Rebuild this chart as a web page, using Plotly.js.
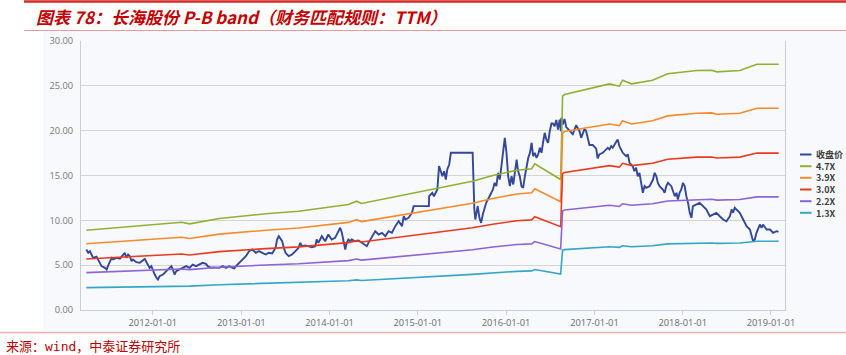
<!DOCTYPE html>
<html><head><meta charset="utf-8">
<script src="https://cdn.plot.ly/plotly-3.0.1.min.js"></script>
<style>html,body{margin:0;padding:0;background:#fff;}#chart{width:846px;height:355px;}</style>
</head><body><div id="chart"></div>
<script>
// ---------- DATA ----------
const priceDates = [
'2011-04-01','2011-04-09','2011-04-16','2011-04-23','2011-04-29','2011-05-13','2011-05-20','2011-06-03','2011-06-17','2011-06-24',
'2011-07-01','2011-07-08','2011-07-15','2011-07-21','2011-08-04','2011-08-18','2011-08-31','2011-09-07','2011-09-14','2011-09-21',
'2011-09-28','2011-10-05','2011-10-11','2011-10-25','2011-11-08','2011-11-22','2011-11-29','2011-12-06','2011-12-19','2011-12-26',
'2012-01-02','2012-01-09','2012-01-16','2012-01-22','2012-01-29','2012-02-12','2012-02-26','2012-03-11','2012-03-18','2012-03-24',
'2012-03-31','2012-04-07','2012-04-21','2012-05-04','2012-05-18','2012-06-01','2012-06-14','2012-06-28','2012-07-12','2012-07-25',
'2012-08-08','2012-08-15','2012-08-29','2012-09-05','2012-10-02','2012-10-16','2012-10-30','2012-11-12','2012-11-26','2012-12-03',
'2012-12-10','2012-12-24','2013-01-06','2013-01-20','2013-02-02','2013-02-16','2013-03-02','2013-03-15','2013-03-29','2013-04-12',
'2013-04-25','2013-05-09','2013-05-23','2013-05-29','2013-06-05','2013-06-12','2013-06-19','2013-06-26','2013-07-03','2013-07-16',
'2013-07-30','2013-08-13','2013-08-26','2013-09-02','2013-09-09','2013-09-23','2013-10-06','2013-10-20','2013-11-03','2013-11-09',
'2013-11-16','2013-11-30','2013-12-14','2013-12-27','2014-01-10','2014-01-24','2014-02-07','2014-02-14','2014-02-21','2014-02-28',
'2014-03-07','2014-03-13','2014-03-20','2014-03-27','2014-04-03','2014-04-17','2014-05-01','2014-05-15','2014-06-04','2014-06-11',
'2014-06-25','2014-07-09','2014-07-23','2014-08-06','2014-08-20','2014-09-02','2014-09-16','2014-09-30','2014-10-14','2014-10-28',
'2014-11-04','2014-11-11','2014-11-24','2014-12-08','2014-12-15','2015-01-05','2015-02-16','2015-02-17','2015-03-02','2015-03-09',
'2015-03-23','2015-03-30','2015-04-06','2015-04-13','2015-04-20','2015-04-27','2015-05-03','2015-05-11','2015-05-18','2015-08-16',
'2015-08-23','2015-08-27','2015-08-31','2015-09-06','2015-09-13','2015-09-20','2015-09-27','2015-10-04','2015-10-11','2015-10-25',
'2015-11-08','2015-11-15','2015-11-22','2015-11-29','2015-12-06','2015-12-13','2015-12-20','2015-12-27','2016-01-03','2016-01-10',
'2016-01-17','2016-01-24','2016-01-31','2016-02-07','2016-02-14','2016-02-20','2016-02-27','2016-03-05','2016-03-12','2016-03-19',
'2016-03-26','2016-04-02','2016-04-09','2016-04-16','2016-04-22','2016-04-29','2016-05-06','2016-05-13','2016-05-20','2016-05-27',
'2016-06-02','2016-06-09','2016-06-16','2016-06-23','2016-06-30','2016-07-07','2016-07-13','2016-07-20','2016-07-27','2016-08-03',
'2016-08-10','2016-08-15','2016-08-17','2016-08-23','2016-08-30','2016-09-06','2016-09-20','2016-10-03','2016-10-17','2016-10-31',
'2016-11-07','2016-11-13','2016-11-20','2016-11-27','2016-12-04','2016-12-11','2016-12-25','2017-01-08','2017-01-14','2017-01-21',
'2017-02-04','2017-02-18','2017-02-25','2017-03-04','2017-03-11','2017-03-17','2017-04-01','2017-04-07','2017-04-14','2017-04-21',
'2017-04-28','2017-05-12','2017-05-19','2017-05-26','2017-06-08','2017-06-15','2017-06-22','2017-06-29','2017-07-06','2017-07-13',
'2017-07-20','2017-07-27','2017-08-03','2017-08-17','2017-08-31','2017-09-07','2017-09-14','2017-09-20','2017-09-27','2017-10-11',
'2017-10-18','2017-10-25','2017-11-01','2017-11-15','2017-11-22','2017-11-29','2017-12-06','2017-12-12','2017-12-19','2017-12-26',
'2018-01-02','2018-01-09','2018-01-16','2018-01-23','2018-01-30','2018-02-06','2018-02-12','2018-02-26','2018-03-12','2018-03-26',
'2018-04-09','2018-04-23','2018-05-06','2018-05-20','2018-06-03','2018-06-17','2018-07-01','2018-07-15','2018-07-22','2018-07-28',
'2018-08-04','2018-08-11','2018-08-25','2018-09-08','2018-09-22','2018-10-06','2018-10-13','2018-10-19','2018-10-26','2018-11-02',
'2018-11-16','2018-11-23','2018-11-29','2018-12-14','2018-12-28','2019-01-10','2019-01-24','2019-02-01'
];
const priceValues = [
6.75,6.38,6.55,6.19,5.82,5.95,5.63,4.89,4.70,4.52,
5.00,5.44,5.82,5.65,5.82,5.72,6.08,6.38,5.82,6.19,
6.00,5.44,5.63,5.33,5.26,5.63,5.70,5.33,4.70,4.89,
4.33,3.96,3.59,3.40,3.77,3.96,4.33,4.70,4.89,4.52,
3.96,4.33,4.52,4.70,4.89,4.70,5.07,4.89,5.07,5.26,
5.15,4.89,4.70,4.75,4.70,4.89,4.70,4.89,4.70,4.63,
4.89,5.26,5.63,6.00,6.56,6.75,6.38,6.56,6.38,6.19,
6.38,6.30,6.94,7.86,8.23,7.86,7.67,6.94,6.38,6.00,
6.19,6.56,6.94,7.49,7.12,7.20,7.12,7.00,7.12,7.86,
7.49,8.23,7.67,8.42,7.86,8.05,8.79,9.17,8.61,7.67,
6.75,7.49,7.86,7.67,7.86,7.67,7.75,7.49,7.12,7.49,
8.23,8.79,8.42,8.61,8.23,8.79,8.61,9.35,9.90,9.35,
10.46,10.09,10.28,10.84,11.58,11.58,11.58,12.69,13.07,12.69,
13.44,16.04,15.50,14.92,15.48,14.55,15.67,16.23,17.53,17.53,
11.21,10.09,10.70,11.58,10.28,9.72,10.65,11.21,11.95,12.69,
13.44,14.18,13.81,15.30,14.55,16.04,17.90,19.20,17.53,14.92,
13.81,14.92,14.00,15.67,16.78,15.50,14.92,13.81,13.63,14.92,
16.04,16.97,17.53,18.65,17.15,17.53,16.97,17.34,18.09,17.53,
18.65,19.76,19.00,18.65,19.94,20.80,20.80,20.50,21.20,20.13,
21.24,19.94,21.43,20.69,21.30,20.40,20.00,19.60,20.60,19.94,
19.20,19.76,20.13,20.00,19.10,18.40,18.40,18.00,16.90,17.34,
17.53,17.90,18.09,17.90,18.27,18.10,18.65,19.01,18.27,17.90,
17.53,17.15,17.34,16.42,16.04,15.48,15.86,14.92,15.30,14.18,
13.07,13.81,13.63,13.81,14.55,15.30,14.92,14.18,13.81,13.44,
13.07,13.81,14.18,13.81,13.25,12.69,13.07,12.32,13.07,13.44,
14.18,13.81,12.69,11.95,10.84,10.28,11.58,11.77,11.95,11.58,
11.21,10.46,10.65,10.84,10.46,10.09,9.90,10.46,11.21,10.84,
11.40,11.21,10.84,10.09,9.35,8.98,8.23,7.67,7.86,8.61,
9.53,9.16,9.53,8.98,8.98,8.61,8.79,8.70
];
const bandDates = [
'2011-04-01','2012-04-21','2012-04-29','2012-06-01','2012-10-02','2013-04-13','2013-08-26','2014-03-20','2014-04-23','2014-05-13',
'2015-08-15','2015-11-07','2016-02-15','2016-04-16','2016-04-29','2016-08-14','2016-08-22','2016-08-30','2017-03-04','2017-04-14',
'2017-04-27','2017-06-03','2017-08-29','2017-10-31','2018-02-28','2018-05-01','2018-05-22','2018-08-25','2018-11-04','2019-02-02'
];
const band47 = [8.90,9.72,9.79,9.61,10.20,10.73,11.02,11.77,12.13,11.88,14.36,15.00,15.59,15.75,16.30,14.55,23.84,24.03,25.22,24.96,25.63,25.22,25.63,26.34,26.71,26.74,26.56,26.71,27.41,27.41];
const band39 = [7.39,8.07,8.12,7.98,8.46,8.90,9.15,9.77,10.07,9.86,11.91,12.44,12.94,13.07,13.53,12.07,19.70,19.90,20.75,20.55,21.10,20.75,21.10,21.65,21.95,21.98,21.83,21.95,22.50,22.50];
const band30 = [5.68,6.20,6.25,6.14,6.51,6.85,7.04,7.51,7.74,7.58,9.17,9.57,9.95,10.05,10.40,9.29,15.22,15.34,16.10,15.93,16.36,16.10,16.36,16.81,17.05,17.07,16.95,17.05,17.50,17.50];
const band22 = [4.17,4.55,4.58,4.50,4.77,5.02,5.16,5.51,5.68,5.56,6.72,7.02,7.30,7.37,7.63,6.81,11.05,11.15,11.68,11.55,11.85,11.68,11.85,12.15,12.33,12.35,12.25,12.33,12.62,12.62];
const band13 = [2.50,2.69,2.71,2.66,2.82,2.97,3.05,3.26,3.36,3.29,3.97,4.15,4.31,4.36,4.51,4.02,6.67,6.73,7.06,6.98,7.17,7.06,7.17,7.37,7.47,7.48,7.43,7.47,7.66,7.66];
const seriesNames = ['收盘价','4.7X','3.9X','3.0X','2.2X','1.3X'];
const yTickValues = [0,5,10,15,20,25,30];
const xTickDates = ['2012-01-01','2013-01-01','2014-01-01','2015-01-01','2016-01-01','2017-01-01','2018-01-01','2019-01-01'];
const titleText = '图表 78：长海股份 P-B band（财务匹配规则：TTM）';
const sourceText = '来源：<span style="font-family:\'DejaVu Sans Mono\'">wind</span>，中泰证券研究所';

// ---------- STYLE / LAYOUT ----------
const colors = ['#33479b','#8fb132','#f88a2c','#ea3b1f','#8c64d6','#36a6c5'];
const L = 81, R = 785, T = 41, B = 310, W = 846, H = 355;
const PX = x => (x - L) / (R - L);
const PY = y => (B - y) / (B - T);

const bandSets = [band47, band39, band30, band22, band13];
const traces = [{
  x: priceDates, y: priceValues, type: 'scatter', mode: 'lines', name: seriesNames[0],
  line: {color: colors[0], width: 1.9}, showlegend: false, hoverinfo: 'skip'
}];
bandSets.forEach((b, i) => traces.push({
  x: bandDates, y: b, type: 'scatter', mode: 'lines', name: seriesNames[i + 1],
  line: {color: colors[i + 1], width: 1.6}, showlegend: false, hoverinfo: 'skip'
}));

const shapes = [
  {type: 'rect', xref: 'paper', yref: 'paper', x0: PX(43), x1: PX(846), y0: PY(331), y1: PY(31),
   fillcolor: '#f7f9fc', line: {width: 0}, layer: 'below'},
  {type: 'line', xref: 'paper', yref: 'paper', x0: PX(24), x1: PX(846), y0: PY(1.5), y1: PY(1.5),
   line: {color: '#d42a2a', width: 2.5}},
  {type: 'line', xref: 'paper', yref: 'paper', x0: PX(24), x1: PX(846), y0: PY(30.5), y1: PY(30.5),
   line: {color: '#e79a9a', width: 1.2}},
  {type: 'line', xref: 'paper', yref: 'paper', x0: PX(0), x1: PX(846), y0: PY(332.5), y1: PY(332.5),
   line: {color: '#efb0b0', width: 1.5}}
];
const legendY = [154.5, 166.2, 177.8, 189.5, 201.2, 212.8];
seriesNames.forEach((n, i) => {
  shapes.push({type: 'line', xref: 'paper', yref: 'paper', x0: PX(800), x1: PX(811.5), y0: PY(legendY[i]), y1: PY(legendY[i]),
    line: {color: colors[i], width: 2}});
});
const annotations = [
  {xref: 'paper', yref: 'paper', x: PX(34), y: PY(16), xanchor: 'left', yanchor: 'middle', showarrow: false,
   text: titleText, font: {family: 'Noto Sans CJK SC', size: 17, color: '#c40000', weight: 'bold', style: 'italic'}},
  {xref: 'paper', yref: 'paper', x: PX(4), y: PY(345), xanchor: 'left', yanchor: 'middle', showarrow: false,
   text: sourceText, font: {family: 'Noto Sans CJK SC', size: 13, color: '#c00000'}},
  {xref: 'paper', yref: 'paper', x: PX(813.5), y: PY((legendY[0] + legendY[5]) / 2), xanchor: 'left', yanchor: 'middle',
   align: 'left', showarrow: false, text: seriesNames.join('<br>'),
   font: {family: 'Noto Sans CJK SC', size: 9, color: '#3c3c3c', weight: 'bold'}}
];

const layout = {
  width: W, height: H, autosize: false,
  margin: {l: L, r: W - R, t: T, b: H - B, pad: 0},
  paper_bgcolor: '#ffffff', plot_bgcolor: 'rgba(0,0,0,0)',
  showlegend: false,
  xaxis: {
    type: 'date', range: ['2011-03-10', '2019-02-28'],
    tickmode: 'array', tickvals: xTickDates, ticktext: xTickDates,
    ticks: 'outside', ticklen: 4, tickcolor: '#c3cfdf', tickwidth: 1,
    showline: true, linecolor: '#c3cfdf', linewidth: 1, mirror: false,
    showgrid: false, zeroline: false,
    tickfont: {family: 'Open Sans', size: 9.3, color: '#6b6b6b'}
  },
  yaxis: {
    range: [0, 30], tickmode: 'array', tickvals: yTickValues, tickformat: '.2f',
    ticks: '', showgrid: true, gridcolor: '#d4d4d4', gridwidth: 1,
    showline: true, linecolor: '#cdcdcd', linewidth: 1, mirror: true,
    zeroline: false, ticklabelstandoff: 5,
    tickfont: {family: 'Open Sans', size: 9.3, color: '#7a7a7a'}
  },
  shapes: shapes, annotations: annotations
};
Plotly.newPlot('chart', traces, layout, {staticPlot: true, displayModeBar: false});
</script>
</body></html>
